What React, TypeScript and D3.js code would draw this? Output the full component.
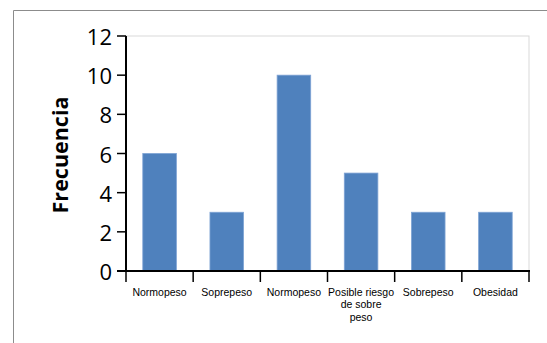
import React from "react";
import * as d3 from "d3";

const categories: string[][] = [
  ["Normopeso"],
  ["Soprepeso"],
  ["Normopeso"],
  ["Posible riesgo", "de sobre", "peso"],
  ["Sobrepeso"],
  ["Obesidad"],
];
const frecuencias: number[] = [6, 3, 10, 5, 3, 3];
const yTicks: number[] = [0, 2, 4, 6, 8, 10, 12];

const W = 547;
const H = 343;
const plot = { left: 126, right: 529, top: 36, bottom: 271 };

export default function App() {
  const ids = categories.map((_, i) => String(i));
  const x = d3
    .scaleBand<string>()
    .domain(ids)
    .range([plot.left, plot.right])
    .paddingInner(0.5)
    .paddingOuter(0.25);
  const y = d3.scaleLinear().domain([0, 12]).range([plot.bottom, plot.top]);
  const boundaries = d3
    .range(categories.length + 1)
    .map((i) => plot.left + i * ((plot.right - plot.left) / categories.length));

  return (
    <svg
      width={W}
      height={H}
      style={{ position: "absolute", left: 0, top: 0, display: "block" }}
    >
      <rect x={0} y={0} width={W} height={H} fill="#fff" />
      {/* outer frame */}
      <line x1={13.5} y1={10.5} x2={W} y2={10.5} stroke="#8c8c8c" strokeWidth={1} />
      <line x1={13.5} y1={10.5} x2={13.5} y2={H} stroke="#8c8c8c" strokeWidth={1} />

      {/* plot area border */}
      <rect
        x={plot.left}
        y={plot.top}
        width={plot.right - plot.left}
        height={plot.bottom - plot.top}
        fill="none"
        stroke="#d9d9d9"
        strokeWidth={1}
      />

      {/* bars */}
      {frecuencias.map((v, i) => (
        <rect
          key={i}
          x={x(String(i))!}
          y={y(v)}
          width={x.bandwidth()}
          height={y(0) - y(v)}
          fill="#4f81bd"
          stroke="#7ea3d4"
          strokeWidth={0.8}
        />
      ))}

      {/* y axis */}
      <line x1={plot.left} y1={plot.top} x2={plot.left} y2={plot.bottom} stroke="#000" strokeWidth={2} />
      {yTicks.map((t) => (
        <g key={t}>
          <line x1={117} y1={y(t)} x2={plot.left} y2={y(t)} stroke="#000" strokeWidth={1.5} />
          <text
            x={112}
            y={y(t)}
            textAnchor="end"
            dominantBaseline="central"
            fontFamily="'Open Sans', 'Noto Sans', sans-serif"
            fontSize={22}
            fill="#000"
          >
            {t}
          </text>
        </g>
      ))}

      {/* x axis */}
      <line x1={117} y1={plot.bottom} x2={plot.right + 1} y2={plot.bottom} stroke="#000" strokeWidth={2} />
      {boundaries.map((bx, i) => (
        <line key={i} x1={bx} y1={plot.bottom} x2={bx} y2={282} stroke="#000" strokeWidth={1.5} />
      ))}
      {categories.map((lines, i) => (
        <text
          key={i}
          x={x(String(i))! + x.bandwidth() / 2}
          y={296}
          textAnchor="middle"
          fontFamily="'Liberation Sans', Arial, sans-serif"
          fontSize={10.5}
          fill="#000"
        >
          {lines.map((ln, j) => (
            <tspan key={j} x={x(String(i))! + x.bandwidth() / 2} dy={j === 0 ? 0 : 12.4}>
              {ln}
            </tspan>
          ))}
        </text>
      ))}

      {/* axis title */}
      <text
        transform={`translate(59, 155) rotate(-90)`}
        textAnchor="middle"
        dominantBaseline="central"
        fontFamily="'Open Sans', 'Noto Sans', sans-serif"
        fontWeight="bold"
        fontSize={21.5}
        fill="#000"
      >
        Frecuencia
      </text>
    </svg>
  );
}
